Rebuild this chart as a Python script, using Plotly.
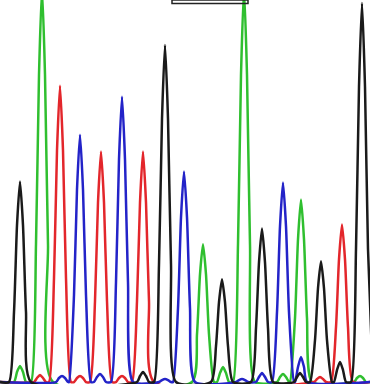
import plotly.graph_objects as go

# Chromatogram channels: sample positions (scan index) and signal values
black_x = [0, 9, 14, 17, 20, 23, 26, 31, 137, 140, 143, 146, 149, 154, 159, 162, 165, 168, 171, 176,
           211, 216, 219, 222, 225, 228, 233, 251, 256, 259, 262, 265, 268, 273, 294, 297, 300, 303, 306,
           310, 315, 318, 321, 324, 327, 332, 334, 337, 340, 343, 346, 351, 356, 359, 362, 365, 368, 373]
black_y = [0, 0, 70, 157, 201, 157, 70, 0, 0, 6, 10, 6, 0, 0, 118, 264, 338, 264, 118, 0,
           0, 36, 80, 103, 80, 36, 0, 0, 54, 120, 154, 120, 54, 0, 0, 5, 9, 5, 0,
           0, 42, 94, 121, 94, 42, 0, 0, 12, 20, 12, 0, 0, 133, 296, 380, 296, 133, 0]

green_x = [0, 14, 17, 20, 23, 26, 31, 36, 39, 42, 45, 48, 53, 192, 197, 200, 203, 206, 209, 214,
           217, 220, 223, 226, 229, 233, 238, 241, 244, 247, 250, 255, 277, 280, 283, 286, 289,
           290, 295, 298, 301, 304, 307, 312, 354, 357, 360, 363, 366, 370]
green_y = [0, 0, 10, 16, 10, 0, 0, 138, 308, 395, 308, 138, 0, 0, 48, 108, 138, 108, 48, 0,
           0, 9, 15, 9, 0, 0, 138, 308, 395, 308, 138, 0, 0, 5, 8, 5, 0,
           0, 64, 143, 183, 143, 64, 0, 0, 4, 6, 4, 0, 0]

red_x = [0, 34, 37, 40, 43, 46, 49, 54, 57, 60, 63, 66, 71, 74, 77, 80, 83, 86, 90, 95, 98, 101, 104,
         107, 112, 116, 119, 122, 125, 128, 132, 137, 140, 143, 146, 149, 154, 314, 317, 320, 323, 326,
         331, 336, 339, 342, 345, 348, 353, 370]
red_y = [0, 0, 4, 7, 4, 0, 0, 104, 232, 297, 232, 104, 0, 0, 4, 6, 4, 0, 0, 81, 180, 231, 180,
         81, 0, 0, 4, 6, 4, 0, 0, 81, 180, 231, 180, 81, 0, 0, 3, 5, 3, 0,
         0, 55, 123, 158, 123, 55, 0, 0]

blue_x = [0, 56, 59, 62, 65, 68, 69, 74, 77, 80, 83, 86, 91, 94, 97, 100, 103, 106, 111, 116, 119, 122,
          125, 128, 133, 159, 162, 165, 168, 171, 173, 178, 181, 184, 187, 190, 195, 236, 239, 242, 245,
          248, 256, 259, 262, 265, 268, 272, 277, 280, 283, 286, 289, 294, 295, 298, 301, 304, 307, 370]
blue_y = [0, 0, 4, 6, 4, 0, 0, 87, 193, 248, 193, 87, 0, 0, 5, 8, 5, 0, 0, 100, 223, 286,
          223, 100, 0, 0, 2, 3, 2, 0, 0, 74, 165, 211, 165, 74, 0, 0, 2, 3, 2,
          0, 0, 5, 9, 5, 0, 0, 70, 156, 200, 156, 70, 0, 0, 15, 25, 15, 0, 0]

channels = [
    ("G", green_x, green_y, "#2fbf2f"),
    ("T", red_x, red_y, "#e3262b"),
    ("C", blue_x, blue_y, "#2323c8"),
    ("A", black_x, black_y, "#1a1a1a"),
]

fig = go.Figure()
for name, xs, ys, col in channels:
    fig.add_trace(go.Scatter(x=xs, y=ys, mode="lines", name=name,
                             line=dict(color=col, width=2.5, shape="spline", smoothing=0.6),
                             hoverinfo="skip"))

fig.add_shape(type="rect", xref="x", yref="paper", x0=172, x1=248, y0=0.991, y1=1.0,
              line=dict(color="#222222", width=1.5), fillcolor="rgba(0,0,0,0)")

fig.update_layout(
    width=370, height=384,
    margin=dict(l=0, r=0, t=0, b=0),
    paper_bgcolor="white", plot_bgcolor="white",
    showlegend=False,
    xaxis=dict(range=[0, 370], visible=False, fixedrange=True),
    yaxis=dict(range=[-2, 383], visible=False, fixedrange=True),
)

fig.write_html("out.html", config={"displayModeBar": False},
               post_script="document.body.style.margin='0';document.body.style.overflow='hidden';")
